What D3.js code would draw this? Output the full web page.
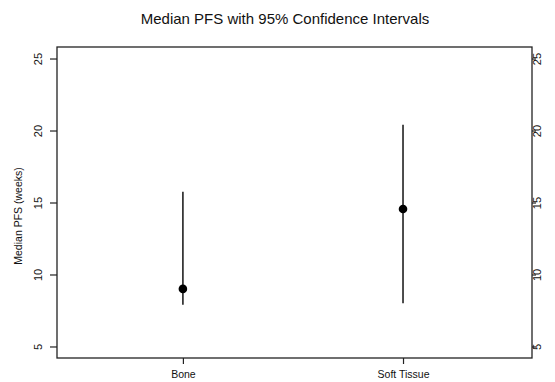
<!DOCTYPE html>
<html><head><meta charset="utf-8">
<script src="https://cdn.jsdelivr.net/npm/d3@7"></script>
<style>body{margin:0;background:#fff}svg{display:block}text{font-family:"Liberation Sans",Arial,sans-serif;fill:#111}</style>
</head><body>
<svg id="c" width="555" height="382"></svg>
<script>
const categories = ["Bone", "Soft Tissue"];
const medians = [9.0, 14.55];
const lowerCI = [7.9, 8.0];
const upperCI = [15.75, 20.4];
const yTicks = [5, 10, 15, 20, 25];

const svg = d3.select("#c");
const L = 57, R = 532, T = 47, B = 358;
const x = d3.scaleLinear().domain([0.428, 2.586]).range([L, R]);
const y = d3.scaleLinear().domain([4.2, 25.8]).range([B, T]);
const ink = "#222";

svg.append("text").attr("x", 285).attr("y", 24).attr("text-anchor", "middle")
  .style("font-size", "15px").text("Median PFS with 95% Confidence Intervals");

// box
svg.append("rect").attr("x", L).attr("y", T).attr("width", R - L).attr("height", B - T)
  .attr("fill", "none").attr("stroke", ink).attr("stroke-width", 1.3);

// left axis
const gl = svg.append("g").attr("transform", `translate(${L},0)`)
  .call(d3.axisLeft(y).tickValues(yTicks).tickSize(7).tickFormat(d3.format("d")));
gl.select(".domain").remove();
gl.selectAll("line").attr("stroke", ink).attr("stroke-width", 1.2);
gl.selectAll("text").style("font-size", "11px").attr("fill", "#111")
  .attr("text-anchor", "middle").attr("x", null)
  .attr("transform", "translate(-19,0) rotate(-90)").attr("dy", "0.35em");

// right axis
const gr = svg.append("g").attr("transform", `translate(${R},0)`)
  .call(d3.axisRight(y).tickValues(yTicks).tickSize(4).tickFormat(d3.format("d")));
gr.select(".domain").remove();
gr.selectAll("line").attr("stroke", ink).attr("stroke-width", 1.2);
gr.selectAll("text").style("font-size", "11px").attr("fill", "#111")
  .attr("text-anchor", "middle").attr("x", null)
  .attr("transform", "translate(5,0) rotate(-90)").attr("dy", "0.35em");

// bottom axis
const gb = svg.append("g").attr("transform", `translate(0,${B})`)
  .call(d3.axisBottom(x).tickValues([1, 2]).tickSize(6).tickPadding(7).tickFormat((d, i) => categories[i]));
gb.select(".domain").remove();
gb.selectAll("line").attr("stroke", ink).attr("stroke-width", 1.2);
gb.selectAll("text").style("font-size", "10.5px").attr("fill", "#111");

// y title
svg.append("text").attr("transform", "translate(18,216) rotate(-90)").attr("text-anchor", "middle")
  .attr("dy", "0.35em").style("font-size", "10.5px").text("Median PFS (weeks)");

// CI lines
svg.append("g").selectAll("line").data(categories).join("line")
  .attr("x1", (d, i) => x(i + 1)).attr("x2", (d, i) => x(i + 1))
  .attr("y1", (d, i) => y(lowerCI[i])).attr("y2", (d, i) => y(upperCI[i]))
  .attr("stroke", ink).attr("stroke-width", 1.6);

svg.append("g").selectAll("circle").data(categories).join("circle")
  .attr("cx", (d, i) => x(i + 1)).attr("cy", (d, i) => y(medians[i])).attr("r", 4.3)
  .attr("fill", "#000");
</script>
</body></html>
